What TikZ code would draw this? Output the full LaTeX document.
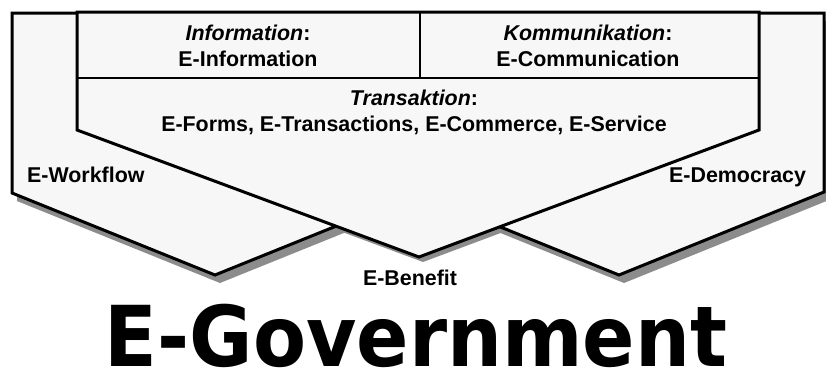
\documentclass[tikz,border=0pt]{standalone}
\usepackage{graphicx}
\usepackage{fontspec}
\setmainfont{Liberation Sans}
\newfontfamily\govfont{DejaVu Sans}
\begin{document}
\begin{tikzpicture}[x=1pt,y=-1pt,
    panel/.style={draw=black,fill=black!3,line width=3pt,line join=miter},
    cast/.style={fill=black!45,shift={(5,8)}},
    lbl/.style={inner sep=0pt,align=center,font=\fontsize{21.4}{26}\selectfont\bfseries}]
    \useasboundingbox (0,0) rectangle (826,370);
    \fill[cast] (12,13) -- (12,193) -- (215,275) -- (418,193) -- (418,13) -- cycle;
    \fill[cast] (824,13) -- (824,192) -- (619,275) -- (414,192) -- (414,13) -- cycle;
    \fill[cast,shift={(-1,-3)}] (77,12) -- (759,12) -- (759,130) -- (419,257) -- (77,130) -- cycle;
    \filldraw[panel] (12,13) -- (12,193) -- (215,275) -- (418,193) -- (418,13) -- cycle;
    \filldraw[panel] (824,13) -- (824,192) -- (619,275) -- (414,192) -- (414,13) -- cycle;
    \filldraw[panel] (77,12) -- (759,12) -- (759,130) -- (419,257) -- (77,130) -- cycle;
    \draw[line width=1.5pt] (77,78) -- (759,78);
    \draw[line width=1.5pt] (420,12) -- (420,78);
    \node[lbl,anchor=north] (info) at (248,25) {\textit{Information}:\\E-Information};
    \node[lbl,anchor=north] (komm) at (588,25) {\textit{Kommunikation}:\\E-Communication};
    \node[lbl,anchor=north] (trans) at (414,90) {\textit{Transaktion}:\\E-Forms, E-Transactions, E-Commerce, E-Service};
    \node[lbl,anchor=base west] (wf) at (27,182) {E-Workflow};
    \node[lbl,anchor=base west] (dem) at (669,182) {E-Democracy};
    \node[lbl,anchor=base] (ben) at (410,285) {E-Benefit};
    \node[inner sep=0pt,text depth=0pt,anchor=base] (egov) at (416,366) {\scalebox{0.92}[1]{\govfont\fontsize{84}{88}\selectfont\bfseries E-Government}};
\end{tikzpicture}
\end{document}
